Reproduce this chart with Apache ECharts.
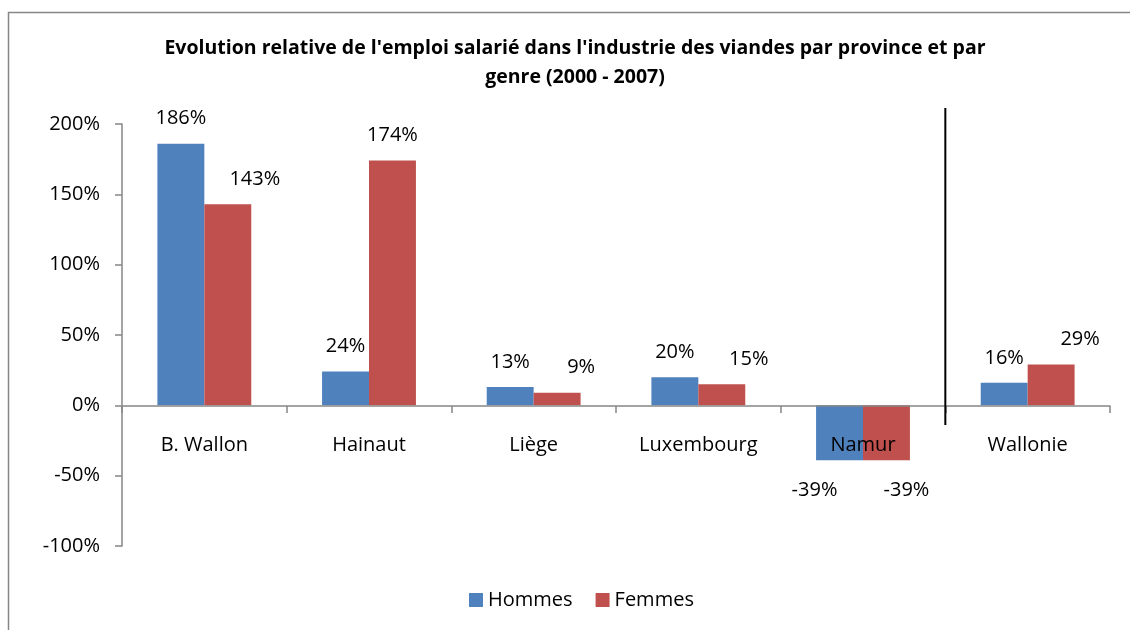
<!DOCTYPE html>
<html>
<head>
<meta charset="utf-8">
<script src="https://cdn.jsdelivr.net/npm/echarts@6/dist/echarts.min.js"></script>
<style>
html,body{margin:0;padding:0;background:#fff;}
#chart{width:1130px;height:630px;}
</style>
</head>
<body>
<div id="chart"></div>
<script>
const categories = ['B. Wallon', 'Hainaut', 'Liège', 'Luxembourg', 'Namur', 'Wallonie'];
const hommes = [186, 24, 13, 20, -39, 16];
const femmes = [143, 174, 9, 15, -39, 29];
const yTicks = [-100, -50, 0, 50, 100, 150, 200];

const FONT = '"Open Sans", "Noto Sans", sans-serif';
const chart = echarts.init(document.getElementById('chart'));

// Excel nudged some data labels sideways to avoid overlap (style only)
const labelNudge = {
  Hommes: { 'Namur': -25 },
  Femmes: { 'B. Wallon': 27, 'Liège': 24, 'Luxembourg': 27, 'Namur': 20, 'Wallonie': 29 }
};

function withLabels(arr, name) {
  return arr.map((v, i) => ({
    value: v,
    label: {
      position: v < 0 ? 'bottom' : 'top',
      offset: [labelNudge[name][categories[i]] || 0, v < 0 ? 5 : 0]
    }
  }));
}

const labelStyle = { show: true, distance: 15, fontFamily: FONT, fontSize: 20, color: '#000', formatter: p => p.value + '%' };

const option = {
  backgroundColor: '#fff',
  animation: false,
  title: {
    text: "Evolution relative de l'emploi salarié dans l'industrie des viandes par province et par\ngenre (2000 - 2007)",
    left: 570,
    top: 29,
    textAlign: 'center',
    textStyle: { fontFamily: FONT, fontWeight: 'bold', fontSize: 19.5, color: '#000', lineHeight: 29, align: 'center' }
  },
  legend: {
    data: ['Hommes', 'Femmes'],
    left: 464,
    top: 585,
    itemWidth: 14,
    itemHeight: 14,
    itemGap: 23,
    icon: 'rect',
    textStyle: { fontFamily: FONT, fontSize: 20, color: '#000' }
  },
  grid: { left: 122, right: 20, top: 124, bottom: 84, containLabel: false },
  xAxis: {
    type: 'category',
    data: categories,
    position: 'bottom',
    offset: -140,
    z: 10,
    axisLine: { onZero: false, lineStyle: { color: '#868686', width: 1.5 } },
    axisTick: { show: true, length: 7, lineStyle: { color: '#868686', width: 1.5 } },
    axisLabel: { fontFamily: FONT, fontSize: 20, color: '#000', margin: 29 },
    splitLine: { show: false }
  },
  yAxis: {
    type: 'value',
    min: yTicks[0],
    max: yTicks[yTicks.length - 1],
    interval: 50,
    axisLine: { show: true, lineStyle: { color: '#868686', width: 1.5 } },
    axisTick: { show: true, length: 7, lineStyle: { color: '#868686', width: 1.5 } },
    axisLabel: { fontFamily: FONT, fontSize: 20, color: '#000', margin: 22, formatter: v => v + '%' },
    splitLine: { show: false }
  },
  series: [
    {
      name: 'Hommes', type: 'bar', data: withLabels(hommes, 'Hommes'),
      barGap: '0%', barCategoryGap: '43%',
      itemStyle: { color: '#4F81BD' },
      label: labelStyle
    },
    {
      name: 'Femmes', type: 'bar', data: withLabels(femmes, 'Femmes'),
      barGap: '0%', barCategoryGap: '43%',
      itemStyle: { color: '#C0504D' },
      label: labelStyle
    }
  ]
};
chart.setOption(option);

// separator between Namur and Wallonie, and outer frame
const xa = chart.convertToPixel({ xAxisIndex: 0 }, 'Namur');
const xb = chart.convertToPixel({ xAxisIndex: 0 }, 'Wallonie');
const sepX = (xa + xb) / 2;
chart.setOption({
  graphic: [
    { type: 'line', z: 20, shape: { x1: sepX, y1: 108, x2: sepX, y2: 425 }, style: { stroke: '#000', lineWidth: 2 } },
    { type: 'rect', z: -1, shape: { x: 8.5, y: 12.5, width: 1200, height: 700 }, style: { fill: null, stroke: '#868686', lineWidth: 1.5 } }
  ]
});
</script>
</body>
</html>
